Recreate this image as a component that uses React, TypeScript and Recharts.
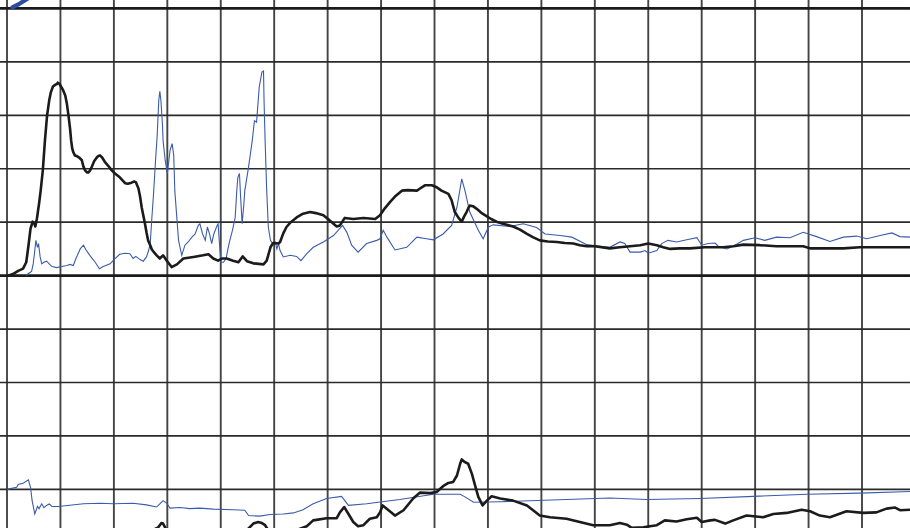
import React from "react";
import { LineChart, Line, XAxis, YAxis, ReferenceLine } from "recharts";

// Shared time axis: one grid column = 10 units
const columnTicks = [0, 10, 20, 30, 40, 50, 60, 70, 80, 90, 100, 110, 120, 130, 140, 150, 160];
// Horizontal grid rows, in lower-panel units (one row = 10)
const rowTicks = [10, 20, 30, 40, 60, 70, 80, 90];
// Zero lines of the strip above and of the main panel, in lower-panel units
const zeroRows = [50, 100];

const T_MIN = -1.31;
const T_MAX = 168.98;

// Strip above the main panel (only its lower edge is in view)
const stripBlue: [number, number][] = [
  [1.0, 0.2], [2.2, 0.8], [3.3, 1.5], [5.4, 2.8], [7.0, 4.0],
];

// Main panel, thick trace
const mainBlack: [number, number][] = [
  [0.2, 0], [1.1, 0.3], [2.1, 0.9], [3.0, 1.3], [3.6, 2.5], [4.0, 5.5], [4.4, 8.8], [4.8, 10.1],
  [5.1, 9.8], [5.3, 9.2], [5.6, 10.7], [6.0, 13.5], [6.3, 15.9], [6.7, 19.7], [7.1, 25.3], [7.5, 30.0],
  [7.9, 32.8], [8.2, 34.3], [8.6, 35.4], [9.0, 35.7], [9.4, 35.9], [9.5, 36.1], [9.8, 35.9], [10.1, 35.4],
  [10.5, 34.7], [10.9, 33.7], [11.2, 32.2], [11.5, 30.0], [11.8, 27.5], [12.0, 25.3], [12.2, 23.8],
  [12.4, 23.1], [12.7, 22.5], [13.0, 22.4], [13.5, 22.1], [14.0, 21.6], [14.3, 20.4], [14.6, 19.7],
  [15.0, 19.3], [15.2, 19.3], [15.5, 19.6], [15.8, 20.2], [16.3, 21.4], [16.8, 22.1], [17.1, 22.4],
  [17.4, 22.5], [17.8, 22.1], [18.3, 21.3], [18.9, 20.6], [19.6, 19.7], [20.2, 19.1], [21.1, 18.4],
  [22.1, 17.3], [22.6, 17.2], [23.3, 17.4], [23.8, 17.6], [24.1, 17.5], [24.6, 16.3], [24.9, 14.8],
  [25.2, 12.8], [25.5, 11.3], [25.8, 9.8], [26.1, 8.1], [26.4, 6.6], [26.8, 5.7], [27.1, 4.9], [27.4, 4.5],
  [28.0, 3.8], [28.6, 3.2], [29.2, 3.8], [29.9, 2.8], [30.8, 1.6], [31.8, 2.1], [33.0, 3.2], [34.9, 3.5],
  [36.7, 3.8], [37.7, 4.0], [38.6, 3.2], [39.5, 2.8], [40.2, 3.2], [41.1, 3.2], [42.3, 2.8], [43.3, 2.5],
  [44.1, 3.6], [44.9, 2.7], [46.1, 2.3], [48.0, 2.1], [48.6, 2.8], [49.3, 5.3], [49.8, 6.1], [50.8, 6.0],
  [51.1, 6.3], [51.7, 7.9], [52.3, 9.1], [53.1, 10.0], [54.2, 10.9], [55.4, 11.6], [56.7, 11.9],
  [57.8, 11.7], [59.2, 11.3], [60.4, 10.3], [61.7, 9.2], [62.3, 9.4], [63.2, 10.8], [64.8, 10.6],
  [66.7, 10.8], [68.9, 10.6], [69.8, 11.3], [70.7, 12.6], [71.7, 13.8], [72.6, 14.8], [73.9, 15.9],
  [75.0, 16.0], [76.7, 15.9], [77.3, 16.3], [78.2, 16.9], [79.5, 16.9], [80.3, 16.6], [81.3, 15.9],
  [82.6, 15.3], [83.2, 14.1], [83.8, 11.9], [84.5, 10.8], [85.1, 10.1], [85.5, 11.0], [86.0, 11.9],
  [86.4, 12.8], [86.6, 13.1], [87.2, 13.0], [87.9, 12.5], [88.7, 11.8], [89.8, 11.1], [90.6, 10.6],
  [91.6, 10.1], [92.8, 9.7], [94.7, 9.2], [96.0, 8.6], [97.3, 7.8], [98.4, 7.2], [99.7, 6.6],
  [101.2, 6.4], [102.9, 6.3], [104.4, 6.1], [106.0, 6.0], [107.2, 5.7], [108.5, 5.5], [110.0, 5.5],
  [112.8, 5.1], [114.7, 5.3], [116.6, 5.5], [118.5, 5.7], [120.0, 6.0], [121.6, 5.7], [122.8, 5.3],
  [124.1, 5.0], [125.9, 5.1], [127.8, 5.1], [130.6, 5.3], [134.0, 5.3], [135.9, 5.5], [137.8, 5.8],
  [140.9, 5.7], [144.0, 5.5], [146.5, 5.5], [149.0, 5.5], [150.3, 5.1], [153.1, 5.1], [156.5, 5.1],
  [159.6, 5.3], [162.7, 5.3], [165.8, 5.3], [169.0, 5.3],
];

// Main panel, thin trace
const mainBlue: [number, number][] = [
  [3.6, 0], [4.0, 0.4], [4.6, 0.8], [4.9, 2.2], [5.2, 4.7], [5.4, 6.6], [5.7, 5.3], [5.9, 6.0],
  [6.2, 3.5], [6.5, 2.2], [6.9, 2.5], [7.4, 2.7], [7.9, 2.2], [8.4, 1.7], [9.3, 1.5], [10.2, 1.7],
  [11.2, 1.9], [11.8, 2.1], [12.4, 1.9], [12.9, 3.2], [13.7, 5.0], [14.3, 5.7], [14.8, 4.8], [15.5, 3.8],
  [16.5, 2.5], [17.3, 1.3], [18.0, 1.7], [19.3, 2.2], [20.2, 3.2], [21.1, 4.0], [22.1, 4.2], [23.0, 4.1],
  [23.6, 3.2], [24.1, 3.6], [24.9, 3.0], [25.5, 2.7], [26.1, 3.5], [26.5, 4.7], [26.8, 6.0], [27.1, 10.7],
  [27.4, 15.0], [27.8, 21.6], [28.1, 26.2], [28.4, 32.8], [28.6, 34.5], [28.8, 32.8], [29.1, 28.1],
  [29.2, 25.3], [29.6, 21.6], [30.0, 19.1], [30.5, 23.4], [30.9, 24.7], [31.2, 22.5], [31.4, 15.9],
  [32.1, 6.6], [32.7, 3.8], [33.3, 5.7], [33.9, 6.3], [34.6, 7.2], [35.2, 7.8], [35.8, 9.4], [36.1, 9.7],
  [36.6, 7.8], [37.1, 6.6], [37.5, 9.1], [37.9, 7.8], [38.3, 6.0], [38.7, 7.8], [39.2, 9.1], [39.5, 9.7],
  [40.0, 2.5], [40.5, 2.5], [41.0, 3.2], [41.4, 5.3], [41.7, 6.6], [42.2, 8.5], [42.7, 10.9], [43.0, 15.9],
  [43.2, 18.4], [43.5, 19.1], [43.7, 15.0], [44.0, 9.7], [44.3, 13.1], [44.5, 15.9], [45.2, 20.3],
  [45.9, 25.3], [46.3, 29.0], [46.7, 28.7], [47.2, 35.3], [47.7, 38.1], [48.0, 38.3], [48.1, 32.8],
  [48.3, 25.3], [48.6, 15.9], [48.9, 9.1], [49.3, 6.6], [49.7, 6.0], [50.2, 6.3], [50.5, 5.0], [50.8, 6.0],
  [51.1, 4.7], [51.7, 3.5], [53.0, 3.8], [54.2, 3.6], [55.0, 2.8], [56.1, 4.1], [57.3, 5.3], [59.2, 6.3],
  [61.1, 7.5], [62.0, 8.5], [62.8, 9.4], [63.6, 8.1], [64.5, 5.7], [65.7, 4.4], [67.3, 6.0], [69.2, 6.6],
  [69.8, 6.9], [70.4, 8.5], [71.1, 7.2], [72.6, 4.8], [74.8, 5.3], [76.7, 7.2], [78.5, 6.9], [79.8, 6.7],
  [81.6, 7.8], [83.2, 9.4], [84.2, 12.8], [85.1, 18.1], [85.7, 15.9], [86.6, 11.9], [88.2, 8.5],
  [89.1, 6.9], [90.1, 9.1], [91.0, 9.5], [94.1, 9.2], [96.6, 9.7], [99.1, 9.0], [100.7, 7.8],
  [103.5, 7.5], [105.7, 7.2], [108.5, 5.8], [111.0, 5.5], [112.8, 5.3], [114.7, 6.3], [115.6, 6.0],
  [116.6, 4.4], [118.5, 4.4], [119.4, 4.7], [120.0, 4.2], [121.6, 4.7], [122.5, 6.0], [123.7, 6.6],
  [125.3, 6.3], [127.2, 6.7], [129.1, 7.1], [130.0, 5.7], [131.2, 6.0], [132.5, 6.1], [133.1, 5.5],
  [134.7, 5.0], [135.9, 5.5], [137.8, 6.6], [140.0, 7.1], [141.8, 6.6], [144.0, 7.2], [146.5, 7.1],
  [149.0, 8.1], [151.5, 7.3], [154.0, 6.4], [156.5, 7.2], [159.0, 7.4], [160.9, 6.9], [163.4, 7.5],
  [165.6, 8.0], [167.1, 7.3], [169.0, 7.2],
];

// Lower panel, thin trace
const lowerBlue: [number, number][] = [
  [0, 10.0], [1.8, 10.4], [2.1, 10.9], [3.1, 11.2], [4.0, 11.8], [4.4, 10.4], [4.7, 7.9], [5.2, 5.4],
  [5.7, 6.8], [6.0, 6.4], [6.5, 7.3], [6.9, 6.6], [7.4, 7.0], [7.9, 7.3], [8.4, 6.8], [9.6, 6.8],
  [14.3, 7.3], [17.4, 7.4], [19.9, 7.3], [23.6, 7.4], [26.1, 7.1], [28.0, 6.7], [28.6, 7.3], [29.2, 7.9],
  [29.9, 7.4], [30.5, 6.5], [32.4, 6.6], [34.2, 6.4], [36.1, 6.5], [38.6, 6.3], [42.3, 6.2], [44.5, 6.1],
  [45.2, 5.1], [47.3, 5.0], [49.2, 5.3], [51.7, 5.4], [53.6, 5.6], [55.4, 6.2], [57.3, 7.3], [59.8, 8.3],
  [62.6, 8.7], [63.9, 7.0], [67.3, 7.3], [73.5, 8.1], [79.8, 9.1], [84.8, 9.1], [85.7, 8.6], [87.3, 7.6],
  [92.3, 7.7], [104.7, 8.1], [112.8, 8.4], [119.7, 8.1], [129.7, 8.3], [139.7, 8.7], [149.7, 9.1],
  [159.6, 9.3], [169.0, 9.6],
];

// Lower panel, thick trace
const lowerBlack: [number, number][] = [
  [0.6, 0], [2.4, 0.8], [6.2, 1.2], [13.7, 1.4], [21.1, 1.6], [25.8, 1.8], [27.1, 2.3], [28.3, 2.9],
  [28.9, 3.7], [29.2, 3.6], [29.8, 2.5], [31.4, 1.8], [36.1, 1.6], [42.7, 1.9], [45.1, 2.6], [46.1, 3.6],
  [47.0, 3.9], [47.7, 3.7], [48.3, 3.3], [48.8, 2.5], [51.1, 1.8], [53.9, 2.3], [56.1, 3.1], [57.3, 4.2],
  [59.8, 4.6], [61.7, 4.6], [62.3, 5.7], [63.1, 6.7], [63.9, 5.4], [64.8, 3.9], [65.7, 3.1], [66.7, 3.3],
  [67.9, 4.5], [69.2, 4.8], [69.8, 5.7], [70.3, 7.0], [71.4, 6.1], [72.6, 5.1], [74.2, 6.1], [76.0, 8.3],
  [77.3, 9.4], [79.2, 9.3], [80.4, 9.5], [81.6, 10.6], [82.6, 11.2], [83.5, 11.4], [84.2, 12.6],
  [84.8, 14.8], [85.1, 15.6], [85.7, 15.1], [86.3, 14.8], [87.0, 12.9], [87.6, 10.7], [88.2, 8.6],
  [89.0, 7.0], [89.8, 7.9], [90.7, 8.7], [92.3, 8.3], [94.7, 7.9], [97.3, 7.0], [99.7, 5.1], [101.6, 4.8],
  [104.7, 4.5], [107.2, 3.9], [109.7, 3.3], [112.8, 3.3], [114.7, 3.7], [116.0, 3.4], [116.9, 2.8],
  [119.1, 2.9], [120.3, 3.1], [121.6, 3.3], [123.1, 4.2], [125.3, 4.0], [127.2, 4.4], [129.1, 4.7],
  [130.0, 3.9], [131.6, 4.2], [132.5, 4.3], [134.4, 3.6], [135.9, 4.2], [138.4, 5.1], [141.5, 4.8],
  [143.4, 5.4], [145.9, 5.6], [148.7, 6.2], [150.3, 5.9], [152.1, 5.1], [154.0, 4.8], [157.1, 5.9],
  [160.2, 5.6], [162.7, 5.7], [164.6, 6.4], [166.2, 6.6], [167.1, 6.1], [169.0, 6.2],
];

const toRows = (pairs: [number, number][]) => pairs.map(([t, v]) => ({ t, v }));

const BLUE = "#3b5bab";
const BLACK = "#1b1b1b";

export default function App() {
  return (
    <div
      style={{
        position: "absolute",
        left: 0,
        top: 0,
        width: 910,
        height: 528,
        overflow: "hidden",
        background: "#ffffff",
      }}
    >
      <div style={{ position: "absolute", left: 0, top: -45.44 }}>
        <LineChart width={910} height={587.84} margin={{ top: 0, right: 0, bottom: 0, left: 0 }}>
          <XAxis dataKey="t" type="number" domain={[T_MIN, T_MAX]} allowDataOverflow hide />
          <YAxis yAxisId="strip" type="number" domain={[-100, 10]} allowDataOverflow hide />
          <YAxis yAxisId="main" type="number" domain={[-50, 60]} allowDataOverflow hide />
          <YAxis yAxisId="lower" type="number" domain={[0, 110]} allowDataOverflow hide />

          {columnTicks.map((c) => (
            <ReferenceLine key={`c${c}`} x={c} yAxisId="lower" stroke="#444444" strokeWidth={1.9} />
          ))}
          {rowTicks.map((r) => (
            <ReferenceLine key={`r${r}`} y={r} yAxisId="lower" stroke="#2a2a2a" strokeWidth={1.7} />
          ))}
          {zeroRows.map((r) => (
            <ReferenceLine key={`z${r}`} y={r} yAxisId="lower" stroke="#1a1a1a" strokeWidth={2.8} />
          ))}

          <Line
            data={toRows(stripBlue)}
            dataKey="v"
            yAxisId="strip"
            type="linear"
            stroke="#2c4c9e"
            strokeWidth={4.2}
            strokeLinecap="round"
            dot={false}
            activeDot={false}
            isAnimationActive={false}
          />
          <Line
            data={toRows(mainBlue)}
            dataKey="v"
            yAxisId="main"
            type="linear"
            stroke={BLUE}
            strokeWidth={1.1}
            dot={false}
            activeDot={false}
            isAnimationActive={false}
          />
          <Line
            data={toRows(mainBlack)}
            dataKey="v"
            yAxisId="main"
            type="linear"
            stroke={BLACK}
            strokeWidth={2.6}
            strokeLinejoin="round"
            dot={false}
            activeDot={false}
            isAnimationActive={false}
          />
          <Line
            data={toRows(lowerBlue)}
            dataKey="v"
            yAxisId="lower"
            type="linear"
            stroke={BLUE}
            strokeWidth={1.1}
            dot={false}
            activeDot={false}
            isAnimationActive={false}
          />
          <Line
            data={toRows(lowerBlack)}
            dataKey="v"
            yAxisId="lower"
            type="linear"
            stroke={BLACK}
            strokeWidth={2.6}
            strokeLinejoin="round"
            dot={false}
            activeDot={false}
            isAnimationActive={false}
          />
        </LineChart>
      </div>
    </div>
  );
}
